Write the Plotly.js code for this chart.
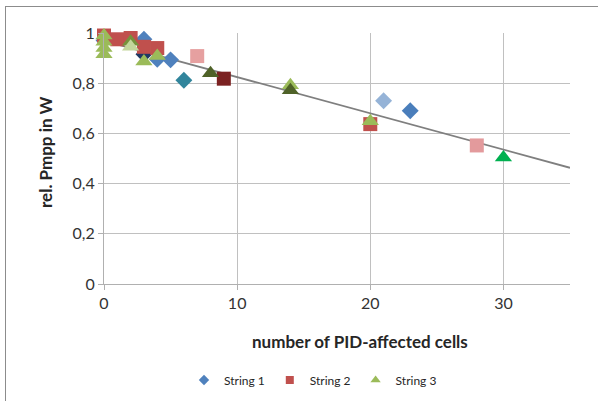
<!DOCTYPE html>
<html>
<head>
<meta charset="utf-8">
<script src="https://cdn.plot.ly/plotly-3.0.1.min.js"></script>
<style>
  html, body { margin: 0; padding: 0; background: #fff; }
  #wrap { position: relative; width: 598px; height: 401px; }
  #chart { width: 598px; height: 401px; }
  #frame { position: absolute; left: 5px; top: 6px; width: 593px; height: 395px;
           border-top: 1px solid #8c8c8c; border-left: 1px solid #8c8c8c;
           box-sizing: border-box; pointer-events: none; }
</style>
</head>
<body>
<div id="wrap">
  <div id="chart"></div>
  <div id="frame"></div>
</div>
<script>
// ---- data ----
const seriesNames = ["String 1", "String 2", "String 3"];

const s1x = [0, 3, 3, 4, 5, 6, 21, 23];
const s1y = [0.97, 0.975, 0.915, 0.895, 0.893, 0.812, 0.73, 0.69];

const s2x = [0, 1, 2, 3, 4, 7, 9, 20, 28];
const s2y = [0.99, 0.975, 0.98, 0.945, 0.94, 0.908, 0.818, 0.637, 0.552];

const s3x = [0, 0, 0, 0, 2, 2, 3, 4, 8, 14, 14, 20, 30];
const s3y = [0.99, 0.965, 0.94, 0.915, 0.965, 0.945, 0.886, 0.908, 0.84, 0.792, 0.772, 0.648, 0.504];

const trendX = [0, 35];
const trendY = [0.969, 0.463];

const xTickVals = [0, 10, 20, 30];
const yTickVals = [0, 0.2, 0.4, 0.6, 0.8, 1];

// ---- styles ----
const s1Colors = ["#4f81bd", "#4f81bd", "#1f3864", "#4f81bd", "#4f81bd", "#31859c", "#95b3d7", "#4a7ebb"];
const s2Colors = ["#c0504d", "#c0504d", "#c0504d", "#c0504d", "#c0504d", "#e6a0a0", "#7b2121", "#c0504d", "#e39a9c"];
const s3Colors = ["#9bbb59", "#9bbb59", "#9bbb59", "#9bbb59", "#76923c", "#c3d69b", "#9bbb59", "#9bbb59", "#4f6228", "#9bbb59", "#4f6228", "#9bbb59", "#00b050"];

const traces = [
  { x: trendX, y: trendY, mode: "lines", line: { color: "#7f7f7f", width: 1.8 },
    showlegend: false, hoverinfo: "skip", cliponaxis: false },
  { x: s1x, y: s1y, mode: "markers", name: seriesNames[0], showlegend: false, cliponaxis: false,
    marker: { symbol: "diamond", size: 13, color: s1Colors } },
  { x: s2x, y: s2y, mode: "markers", name: seriesNames[1], showlegend: false, cliponaxis: false,
    marker: { symbol: "square", size: 14, color: s2Colors } },
  { x: s3x, y: s3y, mode: "markers", name: seriesNames[2], showlegend: false, cliponaxis: false,
    marker: { symbol: "triangle-up", size: 15, color: s3Colors } },
  // legend entries
  { x: [null], y: [null], mode: "markers", name: seriesNames[0],
    marker: { symbol: "diamond", size: 8, color: "#4f81bd" } },
  { x: [null], y: [null], mode: "markers", name: seriesNames[1],
    marker: { symbol: "square", size: 8, color: "#c0504d" } },
  { x: [null], y: [null], mode: "markers", name: seriesNames[2],
    marker: { symbol: "triangle-up", size: 9, color: "#9bbb59" } }
];

const layout = {
  width: 598, height: 401,
  margin: { l: 104, r: 28, t: 33, b: 117 },
  paper_bgcolor: "#ffffff", plot_bgcolor: "#ffffff",
  separators: ", ",
  font: { family: "Lato, 'Open Sans', sans-serif", size: 14, color: "#262626" },
  showlegend: true,
  legend: { orientation: "h", xref: "container", yref: "container",
            x: 184 / 598, xanchor: "left", y: (401 - 380) / 401, yanchor: "middle",
            font: { size: 12, color: "#262626" }, itemwidth: 30 },
  xaxis: {
    range: [0, 35], tickvals: xTickVals, showgrid: true, gridcolor: "#c0c0c0", gridwidth: 1,
    zeroline: false, showline: true, linecolor: "#b0b0b0", linewidth: 1,
    ticks: "outside", ticklen: 5, tickcolor: "#b0b0b0",
    tickfont: { size: 16, color: "#333333" }, fixedrange: true
  },
  yaxis: {
    range: [0, 1], tickvals: yTickVals, showgrid: true, gridcolor: "#c0c0c0", gridwidth: 1,
    zeroline: false, showline: true, linecolor: "#b0b0b0", linewidth: 1,
    ticks: "outside", ticklen: 5, tickcolor: "#b0b0b0",
    tickfont: { size: 16, color: "#333333" }, fixedrange: true
  },
  annotations: [
    { text: "<b>number of PID-affected cells</b>", xref: "paper", yref: "paper",
      x: (360 - 104) / 466, y: (284 - 341) / 251, xanchor: "center", yanchor: "middle",
      showarrow: false, font: { size: 17, color: "#262626" } },
    { text: "<b>rel. Pmpp in W</b>", xref: "paper", yref: "paper", textangle: -90,
      x: (45 - 104) / 466, y: (284 - 152) / 251, xanchor: "center", yanchor: "middle",
      showarrow: false, font: { size: 17, color: "#262626" } }
  ]
};

Plotly.newPlot("chart", traces, layout, { displayModeBar: false, staticPlot: true });
</script>
</body>
</html>
